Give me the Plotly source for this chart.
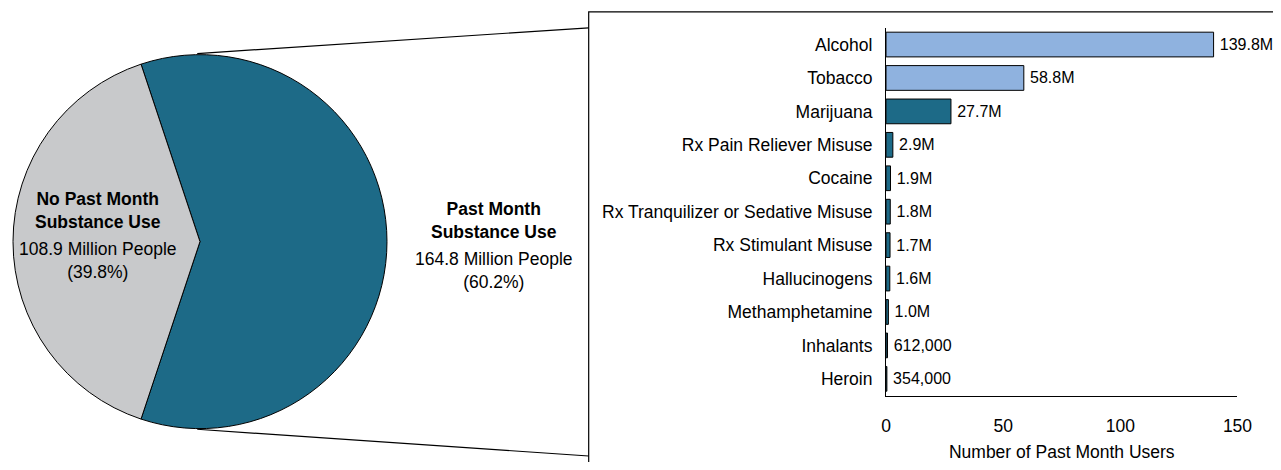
import plotly.graph_objects as go

# Pie: past month substance use among people aged 12+
pie_labels = ["Past Month Substance Use", "No Past Month Substance Use"]
pie_values = [164.8, 108.9]  # millions of people

# Bars: number of past month users (millions)
substances = [
    "Alcohol", "Tobacco", "Marijuana", "Rx Pain Reliever Misuse", "Cocaine",
    "Rx Tranquilizer or Sedative Misuse", "Rx Stimulant Misuse", "Hallucinogens",
    "Methamphetamine", "Inhalants", "Heroin",
]
users = [139.8, 58.8, 27.7, 2.9, 1.9, 1.8, 1.7, 1.6, 1.0, 0.612, 0.354]
x_ticks = [0, 50, 100, 150]

# the page body has an 8px margin all round; keep the figure inside the window
OFF = 8
W, H = 1281 - 2 * OFF, 470 - 2 * OFF
# measured: the shot maps figure x to window x as X0 + SX * x
X0, SX = 14, 0.983
FONT = "Liberation Sans, Arial, sans-serif"
FS = 17.5
DARK = "#1d6a87"
LIGHT = "#8fb2df"
GRAY = "#c8c9cb"


def px(x):
    # window pixel -> paper fraction
    return min(max((x - X0) / SX / W, 0), 1)


def py(y):
    return 1 - (y - OFF) / H


def bar_label(v):
    return f"{v:.1f}M" if v >= 1 else f"{v * 1e6:,.0f}"


total = sum(pie_values)
shares = [v / total * 100 for v in pie_values]

fig = go.Figure()

fig.add_trace(go.Pie(
    labels=pie_labels,
    values=pie_values,
    sort=False,
    direction="clockwise",
    rotation=90 - 180 * shares[0] / 100,
    marker=dict(colors=[DARK, GRAY], line=dict(color="black", width=1)),
    textinfo="none",
    hoverinfo="label+value+percent",
    showlegend=False,
    domain=dict(x=[0, 380 / W], y=[py(433.7), py(53.7)]),
))

fig.add_trace(go.Bar(
    x=users,
    y=substances,
    orientation="h",
    width=0.74,
    marker=dict(color=[LIGHT, LIGHT] + [DARK] * (len(users) - 2),
                line=dict(color="black", width=1)),
    text=["\u2009" + bar_label(v) for v in users],
    textposition="outside",
    textfont=dict(family=FONT, size=16, color="black"),
    cliponaxis=False,
    showlegend=False,
    xaxis="x", yaxis="y",
))

# pie slice labels
lab_font = dict(family=FONT, size=FS, color="black")
for x, yb, yr, i in [(99, 212, 263, 1), (494, 222, 273, 0)]:
    name = pie_labels[i].replace("Month ", "Month<br>")
    fig.add_annotation(x=px(x), y=py(yb), xref="paper", yref="paper",
                       xanchor="center", yanchor="middle",
                       text=f"<b>{name}</b>", showarrow=False,
                       font=lab_font, align="center")
    fig.add_annotation(x=px(x), y=py(yr), xref="paper", yref="paper",
                       xanchor="center", yanchor="middle",
                       text=f"{pie_values[i]} Million People<br>({shares[i]:.1f}%)",
                       showarrow=False, font=lab_font, align="center")

# zoom box and connector lines
fig.add_shape(type="rect", xref="paper", yref="paper",
              x0=px(589), x1=1.05, y0=-0.1, y1=py(12),
              line=dict(color="black", width=1.2), fillcolor="rgba(0,0,0,0)", layer="below")
fig.add_shape(type="line", xref="paper", yref="paper",
              x0=px(198), y0=py(54), x1=px(589), y1=py(28),
              line=dict(color="black", width=1.2))
fig.add_shape(type="line", xref="paper", yref="paper",
              x0=px(198), y0=py(433), x1=px(589), y1=py(460),
              line=dict(color="black", width=1.2))

fig.update_layout(
    width=W, height=H,
    margin=dict(l=0, r=0, t=0, b=0),
    paper_bgcolor="white", plot_bgcolor="white",
    font=dict(family=FONT, size=FS, color="black"),
    xaxis=dict(
        domain=[px(886), px(1237)], anchor="y",
        range=[0, 150], tickvals=x_ticks,
        showgrid=False, zeroline=False,
        showline=True, linecolor="black", linewidth=1.2,
        ticks="", ticklabelstandoff=14,
        tickfont=dict(family=FONT, size=FS),
        title=dict(text="Number of Past Month Users", standoff=14,
                   font=dict(family=FONT, size=FS)),
        fixedrange=True,
    ),
    yaxis=dict(
        domain=[py(399), py(28)], anchor="x",
        autorange="reversed",
        showgrid=False, zeroline=False,
        showline=True, linecolor="black", linewidth=1.2,
        ticks="", ticklabelstandoff=9,
        tickfont=dict(family=FONT, size=FS),
        fixedrange=True,
    ),
)

fig.write_html("out.html")
